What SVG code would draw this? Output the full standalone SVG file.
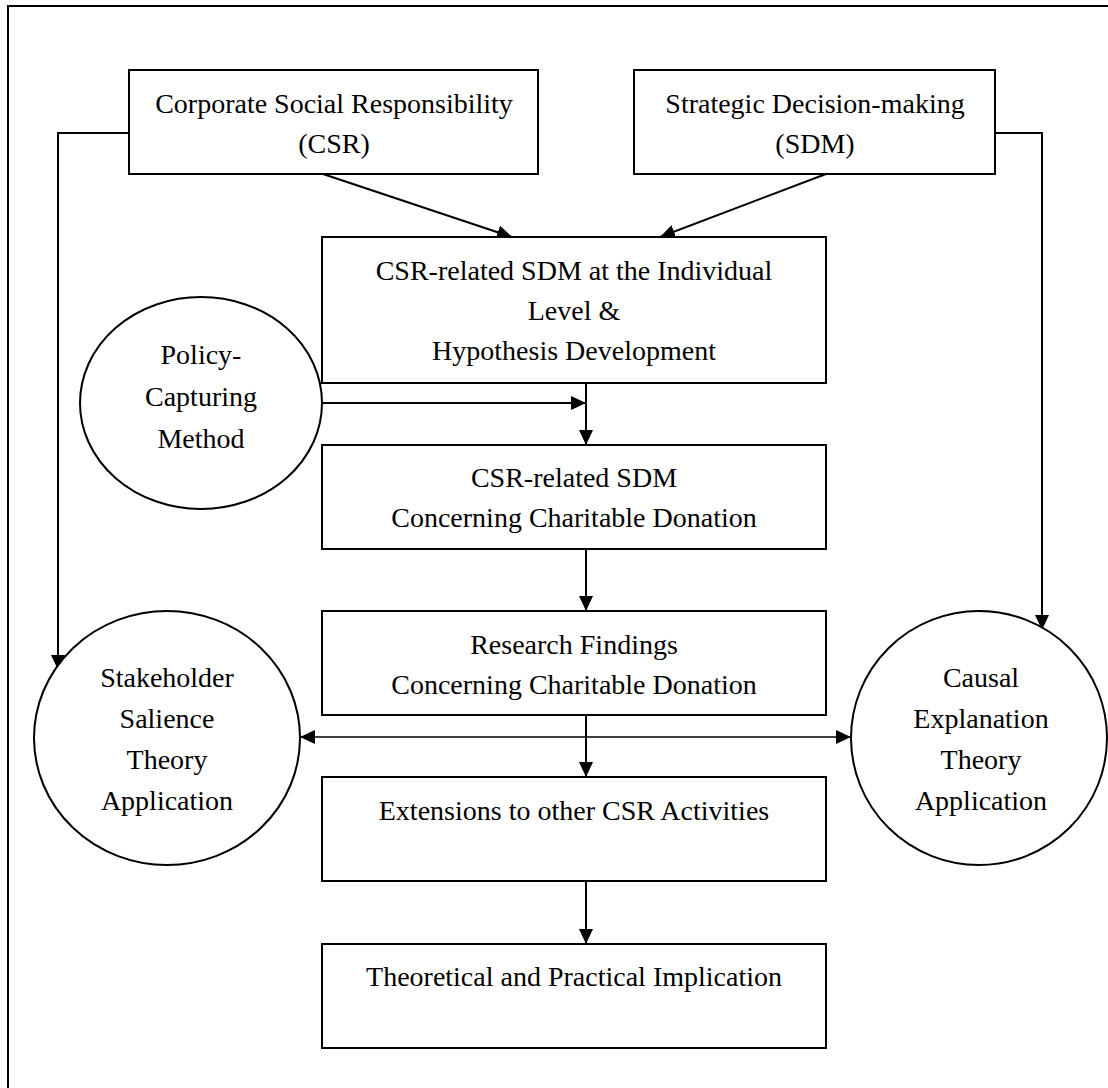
<svg xmlns="http://www.w3.org/2000/svg" width="1108" height="1088" viewBox="0 0 1108 1088">
  <style>
    .box { fill: #fff; stroke: #000; stroke-width: 2; }
    .oval { fill: #fff; stroke: #000; stroke-width: 2; }
    .lbl { font-family: "Liberation Serif", "Times New Roman", serif; font-size: 28px; fill: #000; text-anchor: middle; }
    .wire { fill: none; stroke: #000; stroke-width: 2; }
    .thin { fill: none; stroke: #000; stroke-width: 1.5; }
  </style>
  <defs>
    <marker id="head" markerUnits="userSpaceOnUse" markerWidth="15" markerHeight="14" refX="15" refY="7" orient="auto-start-reverse" viewBox="0 0 15 14">
      <path d="M0,0 L15,7 L0,14 z" fill="#000"/>
    </marker>
  </defs>

  <rect width="1108" height="1088" fill="#fff"/>
  <!-- outer frame (right and bottom edges lie beyond the canvas) -->
  <path d="M8,1092 V6 H1112" fill="none" stroke="#000" stroke-width="2"/>

  <g id="connectors">
    <line class="wire" x1="323" y1="174" x2="512" y2="237" marker-end="url(#head)"/>
    <line class="wire" x1="826" y1="174" x2="660" y2="237" marker-end="url(#head)"/>
    <polyline class="wire" points="129,133 58,133 58,670" marker-end="url(#head)"/>
    <polyline class="wire" points="995,133 1042,133 1042,630" marker-end="url(#head)"/>
    <line class="wire" x1="322" y1="403" x2="586" y2="403" marker-end="url(#head)"/>
    <line class="wire" x1="586" y1="383" x2="586" y2="445" marker-end="url(#head)"/>
    <line class="wire" x1="586" y1="549" x2="586" y2="611" marker-end="url(#head)"/>
    <line class="wire" x1="586" y1="715" x2="586" y2="777" marker-end="url(#head)"/>
    <line class="thin" x1="300" y1="737" x2="851" y2="737" marker-start="url(#head)" marker-end="url(#head)"/>
    <line class="wire" x1="586" y1="881" x2="586" y2="944" marker-end="url(#head)"/>
  </g>

  <g id="csr">
    <rect class="box" x="129" y="70" width="409" height="104"/>
    <text class="lbl" x="334" y="113">Corporate Social Responsibility</text>
    <text class="lbl" x="334" y="153">(CSR)</text>
  </g>

  <g id="sdm">
    <rect class="box" x="634" y="70" width="361" height="104"/>
    <text class="lbl" x="815" y="113">Strategic Decision-making</text>
    <text class="lbl" x="815" y="153">(SDM)</text>
  </g>

  <g id="individual-level">
    <rect class="box" x="322" y="237" width="504" height="146"/>
    <text class="lbl" x="574" y="280">CSR-related SDM at the Individual</text>
    <text class="lbl" x="574" y="320">Level &amp;</text>
    <text class="lbl" x="574" y="360">Hypothesis Development</text>
  </g>

  <g id="policy-capturing">
    <ellipse class="oval" cx="201" cy="403" rx="121" ry="106"/>
    <text class="lbl" x="201" y="364">Policy-</text>
    <text class="lbl" x="201" y="406">Capturing</text>
    <text class="lbl" x="201" y="448">Method</text>
  </g>

  <g id="charitable-sdm">
    <rect class="box" x="322" y="445" width="504" height="104"/>
    <text class="lbl" x="574" y="487">CSR-related SDM</text>
    <text class="lbl" x="574" y="527">Concerning Charitable Donation</text>
  </g>

  <g id="findings">
    <rect class="box" x="322" y="611" width="504" height="104"/>
    <text class="lbl" x="574" y="654">Research Findings</text>
    <text class="lbl" x="574" y="694">Concerning Charitable Donation</text>
  </g>

  <g id="stakeholder-salience">
    <ellipse class="oval" cx="167" cy="738" rx="133" ry="127"/>
    <text class="lbl" x="167" y="687">Stakeholder</text>
    <text class="lbl" x="167" y="728">Salience</text>
    <text class="lbl" x="167" y="769">Theory</text>
    <text class="lbl" x="167" y="810">Application</text>
  </g>

  <g id="causal-explanation">
    <ellipse class="oval" cx="979" cy="738" rx="128" ry="127"/>
    <text class="lbl" x="981" y="687">Causal</text>
    <text class="lbl" x="981" y="728">Explanation</text>
    <text class="lbl" x="981" y="769">Theory</text>
    <text class="lbl" x="981" y="810">Application</text>
  </g>

  <g id="extensions">
    <rect class="box" x="322" y="777" width="504" height="104"/>
    <text class="lbl" x="574" y="820">Extensions to other CSR Activities</text>
  </g>

  <g id="implication">
    <rect class="box" x="322" y="944" width="504" height="104"/>
    <text class="lbl" x="574" y="986">Theoretical and Practical Implication</text>
  </g>
</svg>
